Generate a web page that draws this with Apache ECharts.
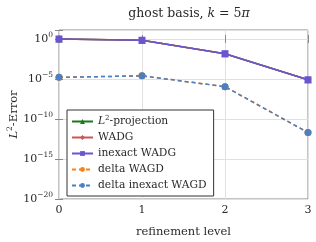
<!DOCTYPE html>
<html><head><meta charset="utf-8">
<script src="https://cdn.jsdelivr.net/npm/echarts@6/dist/echarts.min.js"></script>
<style>html,body{margin:0;padding:0;background:#fff}#c{width:316px;height:242px}</style>
</head><body><div id="c"></div>
<script>
var levels = [0, 1, 2, 3];
var l2Projection = [1.0, 0.7, 0.0145, 8e-6];
var wadg = [1.0, 0.7, 0.0145, 8e-6];
var inexactWadg = [1.0, 0.7, 0.0145, 8e-6];
var deltaWagd = [1.6e-5, 2.5e-5, 1.1e-6, 2e-12];
var deltaInexactWagd = [1.6e-5, 2.5e-5, 1.1e-6, 2e-12];
var yTickExps = [0, -5, -10, -15, -20];
var seriesNames = ['L2-projection', 'WADG', 'inexact WADG', 'delta WAGD', 'delta inexact WAGD'];

var FONT = 'DejaVu Serif';
var TXT = '#2a2a2a';
function pts(vals){ return vals.map(function(v,i){ return [levels[i], Math.log10(v)]; }); }
function mk(name, vals, color, symbol, size, dashed){
  return {name:name, type:'line', data:pts(vals), symbol:symbol, symbolSize:size,
    itemStyle:{color:color}, lineStyle:{color:color, width:1.5, type: dashed?[4,3]:'solid'},
    emphasis:{disabled:true}, animation:false, z:2};
}
var chart = echarts.init(document.getElementById('c'), null, {renderer:'canvas'});
chart.setOption({
  animation:false,
  title:{text:'ghost basis, {i|k} = 5{i|π}', left:184, textAlign:'center', top:2,
    textStyle:{fontFamily:FONT, fontSize:12.5, fontWeight:'normal', color:TXT,
      rich:{i:{fontFamily:FONT, fontStyle:'italic', fontSize:12.5, color:TXT}}}},
  grid:{left:59, right:8, top:30, bottom:43, outerBoundsMode:'none', containLabel:false,
    show:true, borderColor:'#888', borderWidth:1, backgroundColor:'transparent'},
  xAxis:[{type:'value', min:0, max:3, interval:1,
    name:'refinement level', nameLocation:'middle', nameGap:27,
    nameTextStyle:{fontFamily:FONT, fontSize:11.5, color:TXT},
    axisLine:{show:false}, axisTick:{show:true, inside:true, length:4, lineStyle:{color:'#888'}},
    axisLabel:{fontFamily:FONT, fontSize:11, color:TXT, margin:6},
    splitLine:{show:true, lineStyle:{color:'#e0e0e0', width:1}}},
    {type:'value', position:'top', min:0, max:3, interval:1, axisLine:{show:false},
     axisTick:{show:true, inside:true, length:4, lineStyle:{color:'#888'}}, axisLabel:{show:false}, splitLine:{show:false}}],
  yAxis:[{type:'value', min:-20, max:1.125, interval:5,
    name:'{i|L}{s|2}{n|-Error}', nameLocation:'middle', nameGap:45, nameRotate:90, nameMoveOverlap:false,
    nameTextStyle:{fontFamily:FONT, fontSize:11.5, color:TXT, align:'center', verticalAlign:'middle',
      rich:{i:{fontFamily:FONT, fontStyle:'italic', fontSize:11.5, color:TXT},
      n:{fontFamily:FONT, fontSize:11.5, color:TXT},
      s:{fontFamily:FONT, fontSize:7.5, color:TXT, verticalAlign:'bottom', padding:[0,0,7,0]}}},
    axisLine:{show:false}, axisTick:{show:true, inside:true, length:4, lineStyle:{color:'#888'}},
    axisLabel:{margin:6, formatter:function(v){
      if (yTickExps.indexOf(Math.round(v))<0 || Math.abs(v-Math.round(v))>1e-6) return '';
      var e = Math.round(v); return '{b|10}{s|'+(e<0?'\u2212'+(-e):e)+'}'; }, rich:{
        b:{fontFamily:FONT, fontSize:11, color:TXT},
        s:{fontFamily:FONT, fontSize:7.5, color:TXT, verticalAlign:'bottom', padding:[0,0,7,0]}}},
    splitLine:{show:true, lineStyle:{color:'#e0e0e0', width:1}}},
    {type:'value', position:'right', min:-20, max:1.125, interval:5, axisLine:{show:false},
     axisTick:{show:true, inside:true, length:4, lineStyle:{color:'#888'}}, axisLabel:{show:false}, splitLine:{show:false}}],
  legend:{orient:'vertical', left:67, top:110, itemWidth:21, itemHeight:6, itemGap:3,
    padding:[5,7,4,4], borderColor:'#333', borderWidth:1, backgroundColor:'#fff',
    data:seriesNames, selectedMode:false,
    formatter:function(n){ return n==='L2-projection' ? '{i|L}{s|2}{b|-projection}' : '{b|'+n+'}'; },
    textStyle:{fontFamily:FONT, fontSize:10.7, color:TXT, lineHeight:13,
      rich:{b:{fontFamily:FONT, fontSize:10.7, color:TXT, lineHeight:13},
        i:{fontFamily:FONT, fontStyle:'italic', fontSize:10.7, color:TXT, lineHeight:13},
        s:{fontFamily:FONT, fontSize:7, color:TXT, verticalAlign:'bottom', padding:[0,0,6,0]}}}},
  series:[
    mk(seriesNames[0], l2Projection, '#1a7a1a', 'triangle', 7, false),
    mk(seriesNames[1], wadg, '#cc5555', 'diamond', 7, false),
    mk(seriesNames[2], inexactWadg, '#6a55d0', 'rect', 7, false),
    mk(seriesNames[3], deltaWagd, '#ff8010', 'circle', 7, true),
    mk(seriesNames[4], deltaInexactWagd, '#4a7fc4', 'circle', 7, true)
  ]
});
</script></body></html>
